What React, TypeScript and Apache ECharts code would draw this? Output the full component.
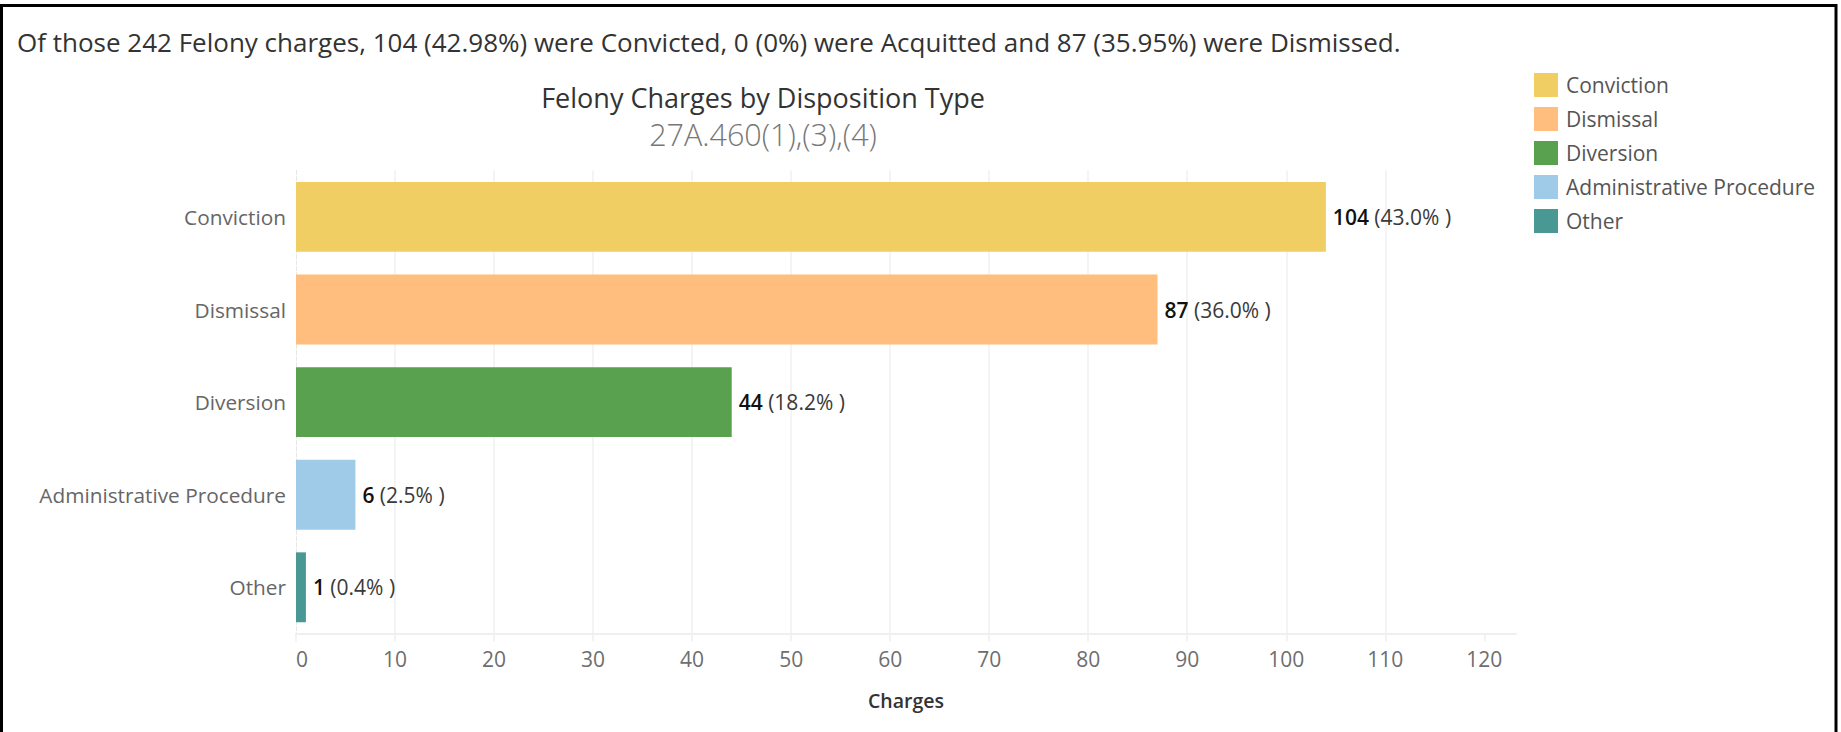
import React, { useEffect, useRef } from "react";
import * as echarts from "echarts";

const categories = ["Conviction", "Dismissal", "Diversion", "Administrative Procedure", "Other"];
const charges = [104, 87, 44, 6, 1];
const percents = ["43.0%", "36.0%", "18.2%", "2.5%", "0.4%"];
const colors = ["#F1CE63", "#FFBE7D", "#59A14F", "#A0CBE8", "#499894"];
const xTicks = [0, 10, 20, 30, 40, 50, 60, 70, 80, 90, 100, 110, 120];
const headerText =
  "Of those 242 Felony charges, 104 (42.98%) were Convicted, 0 (0%) were Acquitted and 87 (35.95%) were Dismissed.";
const titleText = "Felony Charges by Disposition Type";
const subtitleText = "27A.460(1),(3),(4)";
const axisName = "Charges";

const FONT = "'Open Sans', sans-serif";

export default function App() {
  const ref = useRef<HTMLDivElement>(null);

  useEffect(() => {
    if (!ref.current) return;
    const chart = echarts.init(ref.current, null, { renderer: "svg" });

    const series = categories.map((name, i) => ({
      name,
      type: "bar",
      stack: "all",
      barCategoryGap: "24.5%",
      itemStyle: { color: colors[i] },
      data: categories.map((_, j) => (j === i ? charges[j] : "-")),
      label: {
        show: true,
        position: "right",
        distance: 7,
        formatter: (p: any) => `{v|${p.value}}{p| (${percents[p.dataIndex]} )}`,
        rich: {
          v: { fontFamily: FONT, fontSize: 21, fontWeight: 600, color: "#111" },
          p: { fontFamily: FONT, fontSize: 21, color: "#3a3a3a" },
        },
      },
    }));

    chart.setOption({
      animation: false,
      backgroundColor: "#fff",
      textStyle: { fontFamily: FONT },
      grid: { left: 296, right: 325, top: 170.6, height: 463 },
      legend: {
        data: categories,
        orient: "vertical",
        left: 1534,
        top: 73,
        padding: 0,
        itemWidth: 24,
        itemHeight: 24,
        itemGap: 10,
        icon: "rect",
        selectedMode: false,
        textStyle: { fontFamily: FONT, fontSize: 21, color: "#555", padding: [0, 0, 0, 3] },
      },
      xAxis: {
        type: "value",
        min: 0,
        max: 123.2,
        interval: 10,
        name: axisName,
        nameLocation: "middle",
        nameGap: 57,
        nameTextStyle: { fontFamily: FONT, fontSize: 19.5, color: "#333", fontWeight: 600 },
        axisLine: { show: true, lineStyle: { color: "#efefef", width: 2 } },
        axisTick: { show: true, length: 8, lineStyle: { color: "#efefef", width: 1.5 }, customValues: xTicks },
        axisLabel: {
          customValues: xTicks,
          alignMinLabel: "left",
          color: "#6e6e6e",
          fontSize: 21,
          margin: 15,
          fontFamily: FONT,
        },
        splitLine: { show: true, showMinLine: false, showMaxLine: false, lineStyle: { color: "#f0f0f0", width: 1.5 } },
      },
      yAxis: {
        type: "category",
        data: categories,
        inverse: true,
        axisTick: { show: false },
        axisLine: { show: true, lineStyle: { color: "#e6e6e6", type: "dashed", width: 1 } },
        axisLabel: { color: "#666", fontSize: 20.8, margin: 10, fontFamily: FONT },
      },
      series,
      graphic: [
        {
          type: "rect",
          shape: { x: 1.5, y: 5.5, width: 1834.5, height: 800 },
          style: { fill: "none", stroke: "#000", lineWidth: 3 },
          silent: true,
        },
        {
          type: "text",
          x: 17,
          y: 42,
          style: { text: headerText, fontFamily: FONT, fontSize: 26, fill: "#333", verticalAlign: "middle" },
        },
        {
          type: "text",
          x: 763,
          y: 97,
          style: { text: titleText, fontFamily: FONT, fontSize: 27, fill: "#333", align: "center", verticalAlign: "middle" },
        },
        {
          type: "text",
          x: 763,
          y: 134,
          style: { text: subtitleText, fontFamily: FONT, fontSize: 30.5, fill: "#777", align: "center", verticalAlign: "middle", fontWeight: 300 },
        },
      ],
    });

    return () => chart.dispose();
  }, []);

  return (
    <div
      ref={ref}
      style={{ position: "absolute", left: 0, top: 0, width: 1841, height: 732 }}
    />
  );
}
